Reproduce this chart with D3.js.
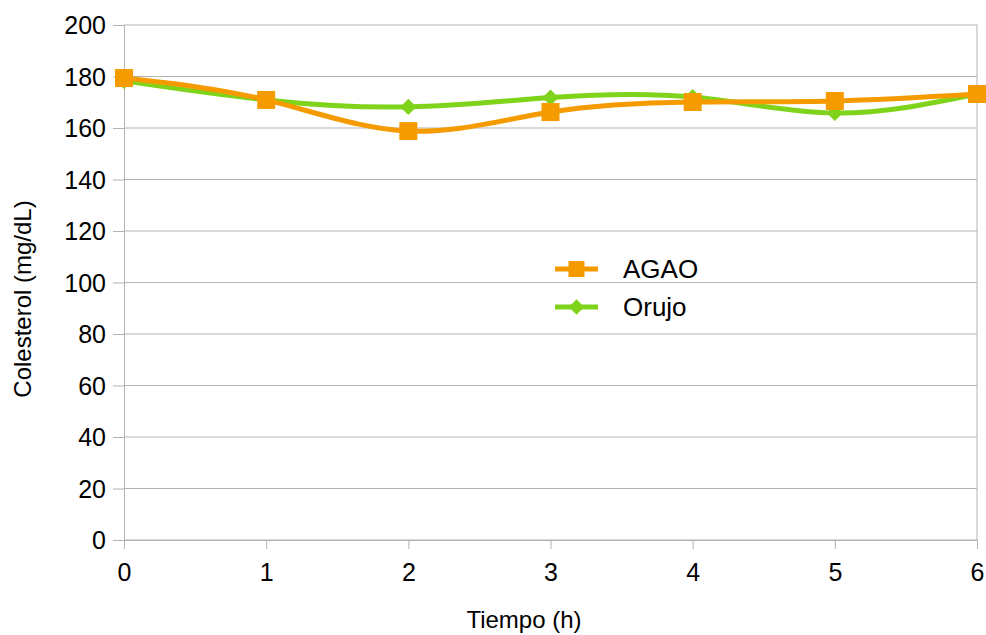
<!DOCTYPE html>
<html>
<head>
<meta charset="utf-8">
<script src="https://cdn.jsdelivr.net/npm/d3@7"></script>
<style>
  body { margin: 0; background: #fff; }
  svg text { font-family: "Liberation Sans", Arial, sans-serif; fill: #000; }
</style>
</head>
<body>
<div id="chart-area"></div>
<script>
const hours = [0, 1, 2, 3, 4, 5, 6]
const agao = [179.4, 170.9, 158.8, 166.2, 170.1, 170.5, 173.2]
const orujo = [178.3, 170.9, 168.2, 171.8, 172.0, 165.8, 173.2]
const yTicks = [0, 20, 40, 60, 80, 100, 120, 140, 160, 180, 200]
const seriesNames = ["AGAO", "Orujo"]
const seriesColors = ["#f59b00", "#7fd41b"]

const MARGIN = { LEFT: 124, RIGHT: 9, TOP: 25, BOTTOM: 95 }
const WIDTH = 986 - MARGIN.LEFT - MARGIN.RIGHT
const HEIGHT = 635 - MARGIN.TOP - MARGIN.BOTTOM

const svg = d3.select('#chart-area').append('svg')
  .attr('width', 986)
  .attr('height', 635)

const g = svg.append("g")
  .attr("transform", `translate(${MARGIN.LEFT}, ${MARGIN.TOP})`)

const x = d3.scaleLinear().domain([0, 6]).range([0, WIDTH])
const y = d3.scaleLinear().domain([0, 200]).range([HEIGHT, 0])

// grid lines
g.selectAll(".grid").data(yTicks).enter().append("line")
  .attr("x1", 0).attr("x2", WIDTH)
  .attr("y1", d => y(d)).attr("y2", d => y(d))
  .attr("stroke", "#b3b3b3").attr("stroke-width", 1)
g.append("line")
  .attr("x1", WIDTH).attr("x2", WIDTH).attr("y1", 0).attr("y2", HEIGHT)
  .attr("stroke", "#b3b3b3")

// axes
const yAxisCall = d3.axisLeft(y).tickValues(yTicks).tickSize(11).tickPadding(7)
const yAxis = g.append("g").attr("class", "y-axis").call(yAxisCall)
const xAxisCall = d3.axisBottom(x).tickValues(hours).tickFormat(d3.format("d"))
  .tickSize(9).tickPadding(14)
const xAxis = g.append("g").attr("class", "x-axis")
  .attr("transform", `translate(0, ${HEIGHT})`).call(xAxisCall)
;[xAxis, yAxis].forEach(a => {
  a.select(".domain").attr("stroke", "#b3b3b3")
  a.selectAll(".tick line").attr("stroke", "#b3b3b3")
  a.selectAll("text").attr("font-size", "25px")
    .attr("font-family", "Liberation Sans, Arial, sans-serif")
})
yAxis.selectAll("text").attr("dy", "0.35em")

// labels
g.append("text")
  .attr("x", 524 - MARGIN.LEFT)
  .attr("y", 628 - MARGIN.TOP)
  .attr("font-size", "24px")
  .attr("text-anchor", "middle")
  .text("Tiempo (h)")

g.append("text")
  .attr("x", -274)
  .attr("y", -93)
  .attr("font-size", "24px")
  .attr("text-anchor", "middle")
  .attr("transform", "rotate(-90)")
  .text("Colesterol (mg/dL)")

const line = d3.line()
  .x((d, i) => x(hours[i]))
  .y(d => y(d))
  .curve(d3.curveNatural)

const series = [agao, orujo]
const square = d3.symbol().type(d3.symbolSquare).size(324)
const diamond = d3.symbol().type(d3.symbolDiamond2).size(165)

// draw Orujo first, then AGAO on top
;[1, 0].forEach(s => {
  g.append("path")
    .attr("d", line(series[s]))
    .attr("fill", "none")
    .attr("stroke", seriesColors[s])
    .attr("stroke-width", 5)
  g.selectAll(".m" + s).data(series[s]).enter().append("path")
    .attr("transform", (d, i) => `translate(${x(hours[i])}, ${y(d)})`)
    .attr("d", s === 0 ? square : diamond)
    .attr("fill", seriesColors[s])
})

// legend
const legend = svg.append("g").attr("transform", "translate(555, 269)")
seriesNames.forEach((name, i) => {
  const lg = legend.append("g").attr("transform", `translate(0, ${i * 38})`)
  lg.append("line").attr("x1", 0).attr("x2", 43)
    .attr("stroke", seriesColors[i]).attr("stroke-width", 5)
  lg.append("path")
    .attr("transform", "translate(21.5, 0)")
    .attr("d", i === 0 ? d3.symbol().type(d3.symbolSquare).size(256)() : d3.symbol().type(d3.symbolDiamond2).size(150)())
    .attr("fill", seriesColors[i])
  lg.append("text").attr("x", 68).attr("y", 0).attr("dy", "0.35em")
    .attr("font-size", "26px").text(name)
})
</script>
</body>
</html>
